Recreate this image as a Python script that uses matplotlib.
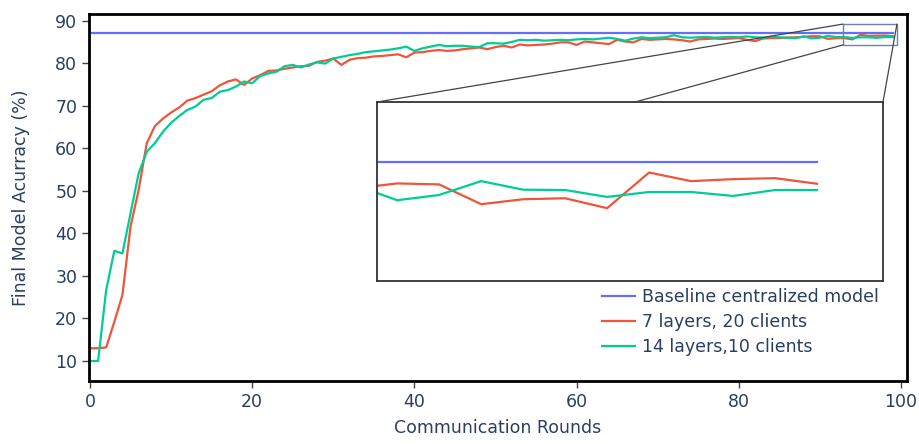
import numpy as np
import matplotlib.pyplot as plt
from matplotlib.patches import Rectangle, ConnectionPatch

# Dati
rounds = list(range(100))

baseline = [87.0] * 100

layers7_clients20 = [
    13.0, 13.0, 13.2, 19.2, 25.5, 41.6, 50.2, 61.2, 65.2, 67.0,
    68.4, 69.6, 71.2, 71.8, 72.6, 73.4, 74.8, 75.7, 76.2, 74.9,
    76.4, 77.2, 78.2, 78.3, 78.7, 79.0, 79.3, 79.4, 80.3, 80.6,
    81.1, 79.6, 80.8, 81.2, 81.3, 81.6, 81.7, 81.9, 82.1, 81.4,
    82.5, 82.6, 82.9, 83.1, 82.9, 83.0, 83.3, 83.5, 83.7, 83.3,
    83.8, 84.1, 83.7, 84.4, 84.2, 84.3, 84.4, 84.6, 84.9, 84.9,
    84.3, 85.1, 84.9, 84.7, 84.5, 85.5, 85.1, 84.9, 85.7, 85.5,
    85.6, 85.7, 85.6, 85.4, 85.1, 85.6, 85.7, 85.8, 85.7, 85.8,
    85.9, 85.5, 85.2, 85.8, 85.9, 85.9, 86.0, 86.1, 86.2, 86.35,
    86.32, 85.72, 85.87, 85.90, 85.60, 86.68, 86.42, 86.48, 86.51, 86.34,
]

layers14_clients10 = [
    10.0, 10.0, 26.7, 35.9, 35.3, 44.7, 54.1, 59.2, 61.2, 63.9,
    66.0, 67.6, 69.0, 69.8, 71.4, 71.8, 73.3, 73.7, 74.5, 75.7,
    75.3, 77.0, 77.6, 78.0, 79.3, 79.6, 79.0, 79.7, 80.2, 79.9,
    81.1, 81.5, 81.9, 82.2, 82.6, 82.8, 83.0, 83.2, 83.5, 83.9,
    82.9, 83.5, 83.9, 84.3, 84.0, 84.1, 84.1, 83.9, 83.8, 84.7,
    84.7, 84.6, 85.0, 85.5, 85.4, 85.5, 85.3, 85.4, 85.5, 85.4,
    85.6, 85.7, 85.6, 85.8, 86.0, 85.7, 85.3, 85.8, 86.1, 85.9,
    86.0, 86.1, 86.6, 86.1, 86.0, 86.1, 86.2, 86.0, 86.1, 86.2,
    86.1, 86.3, 86.1, 86.0, 86.2, 86.1, 86.0, 85.9, 86.3, 85.84,
    86.00, 86.42, 86.16, 86.15, 85.94, 86.09, 86.09, 85.97, 86.15, 86.15,
]

labels = ["Baseline centralized model", "7 layers, 20 clients", "14 layers,10 clients"]
colors = ["#636efa", "#EF553B", "#00cc96"]
series = [baseline, layers7_clients20, layers14_clients10]

text_col = "#2a3f5f"
plt.rcParams['font.family'] = ['DejaVu Sans']
plt.rcParams['font.size'] = 12.5

fig = plt.figure(figsize=(9.19, 4.44), dpi=100)
ax = fig.add_axes([89 / 919, 1 - 381 / 444, 818 / 919, 367 / 444])

for y, c, lab in zip(series, colors, labels):
    ax.plot(rounds, y, color=c, lw=1.6, label=lab)

ax.set_xlim(-0.12, 100.74)
ax.set_ylim(5.3, 91.57)
ax.set_xticks(range(0, 101, 20))
ax.set_yticks(range(10, 91, 10))
ax.tick_params(direction='out', length=5, width=1, color='#444444', labelcolor=text_col, labelsize=12.5)
for s in ax.spines.values():
    s.set_linewidth(2)
    s.set_color('black')
ax.set_xlabel("Communication Rounds", color=text_col, fontsize=12.5, labelpad=6)
ax.set_ylabel("Final Model Acurracy (%)", color=text_col, fontsize=12.5, labelpad=18)

# riquadro della zona ingrandita
bx0, bx1, by0, by1 = 92.85, 99.5, 84.3, 89.2
ax.add_patch(Rectangle((bx0, by0), bx1 - bx0, by1 - by0, fill=False,
                       edgecolor='#7080b0', lw=1, zorder=5))

ax.legend(loc='upper left', bbox_to_anchor=(602 / 919, 1 - 288 / 444),
          bbox_transform=fig.transFigure, frameon=False, borderpad=0,
          borderaxespad=0, handlelength=1.9, handletextpad=0.4,
          labelspacing=0.4, labelcolor=text_col, fontsize=12.5)

# inset
axin = fig.add_axes([377 / 919, 1 - 281 / 444, 506 / 919, 179 / 444])
for y, c in zip(series, colors):
    axin.plot(rounds, y, color=c, lw=1.6)
axin.set_xlim(88.52, 100.57)
axin.set_ylim(83.39, 88.82)
axin.set_xticks([])
axin.set_yticks([])
for s in axin.spines.values():
    s.set_linewidth(1.3)
    s.set_color('#333333')

# linee di collegamento
links = [((bx0, by1), (0, 1)), ((bx0, by0), (0.51, 1)), ((bx1, by1), (1, 1))]
for pa, pb in links:
    cp = ConnectionPatch(xyA=pa, coordsA=ax.transData, xyB=pb, coordsB=axin.transAxes,
                         color='#444444', lw=0.9)
    fig.add_artist(cp)

fig.savefig("out.png", dpi=100)
